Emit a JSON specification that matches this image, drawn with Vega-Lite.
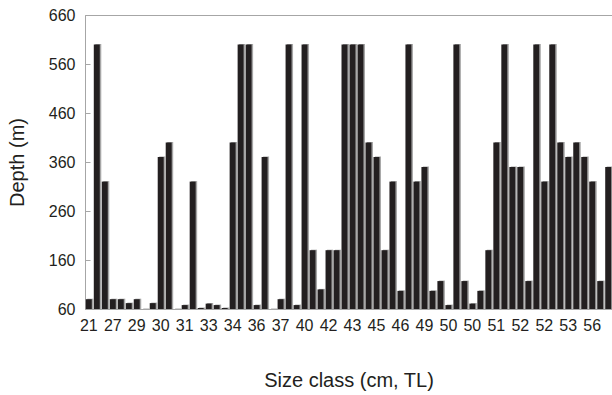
{
  "$schema": "https://vega.github.io/schema/vega-lite/v6.json",
  "autosize": {"type": "none"},
  "padding": {"left": 85, "top": 15, "right": 0, "bottom": 86},
  "width": 527,
  "height": 294,
  "config": {
    "font": "Liberation Sans",
    "view": {"stroke": "#a6a6a6", "strokeWidth": 1},
    "axis": {"labelFont": "Liberation Sans", "titleFont": "Liberation Sans", "labelColor": "#231f20", "titleColor": "#231f20", "labelFontSize": 16, "titleFontSize": 20, "titleFontWeight": "normal", "grid": false, "domainColor": "#a6a6a6", "tickColor": "#a6a6a6"}
  },
  "data": {"values": [
    {"cat": "21|0", "depth": 80}, {"cat": "|1", "depth": 600}, {"cat": "|2", "depth": 320},
    {"cat": "27|3", "depth": 80}, {"cat": "|4", "depth": 80}, {"cat": "|5", "depth": 72},
    {"cat": "29|6", "depth": 80}, {"cat": "|7", "depth": 60}, {"cat": "|8", "depth": 72},
    {"cat": "30|9", "depth": 370}, {"cat": "|10", "depth": 400}, {"cat": "|11", "depth": 60},
    {"cat": "31|12", "depth": 68}, {"cat": "|13", "depth": 320}, {"cat": "|14", "depth": 62},
    {"cat": "33|15", "depth": 71}, {"cat": "|16", "depth": 68}, {"cat": "|17", "depth": 62},
    {"cat": "34|18", "depth": 400}, {"cat": "|19", "depth": 600}, {"cat": "|20", "depth": 600},
    {"cat": "36|21", "depth": 68}, {"cat": "|22", "depth": 370}, {"cat": "|23", "depth": 60},
    {"cat": "37|24", "depth": 80}, {"cat": "|25", "depth": 600}, {"cat": "|26", "depth": 68},
    {"cat": "40|27", "depth": 600}, {"cat": "|28", "depth": 180}, {"cat": "|29", "depth": 100},
    {"cat": "42|30", "depth": 180}, {"cat": "|31", "depth": 180}, {"cat": "|32", "depth": 600},
    {"cat": "43|33", "depth": 600}, {"cat": "|34", "depth": 600}, {"cat": "|35", "depth": 400},
    {"cat": "45|36", "depth": 370}, {"cat": "|37", "depth": 180}, {"cat": "|38", "depth": 320},
    {"cat": "46|39", "depth": 97}, {"cat": "|40", "depth": 600}, {"cat": "|41", "depth": 320},
    {"cat": "49|42", "depth": 350}, {"cat": "|43", "depth": 97}, {"cat": "|44", "depth": 117},
    {"cat": "50|45", "depth": 68}, {"cat": "|46", "depth": 600}, {"cat": "|47", "depth": 117},
    {"cat": "50|48", "depth": 71}, {"cat": "|49", "depth": 97}, {"cat": "|50", "depth": 180},
    {"cat": "51|51", "depth": 400}, {"cat": "|52", "depth": 600}, {"cat": "|53", "depth": 350},
    {"cat": "52|54", "depth": 350}, {"cat": "|55", "depth": 117}, {"cat": "|56", "depth": 600},
    {"cat": "52|57", "depth": 320}, {"cat": "|58", "depth": 600}, {"cat": "|59", "depth": 400},
    {"cat": "53|60", "depth": 370}, {"cat": "|61", "depth": 400}, {"cat": "|62", "depth": 370},
    {"cat": "56|63", "depth": 320}, {"cat": "|64", "depth": 117}, {"cat": "|65", "depth": 350}
  ]},
  "encoding": {
    "x": {
      "field": "cat", "type": "nominal", "sort": null,
      "scale": {"paddingInner": 0.25, "paddingOuter": 0.1},
      "axis": {"title": "Size class (cm, TL)", "labelAngle": 0, "ticks": false, "labelPadding": 8, "titlePadding": 37, "labelExpr": "split(datum.value, '|')[0]"}
    },
    "y": {
      "field": "depth", "type": "quantitative",
      "scale": {"domain": [60, 660], "zero": false, "nice": false},
      "axis": {"title": "Depth (m)", "values": [60, 160, 260, 360, 460, 560, 660], "tickSize": -5, "labelPadding": 15, "titlePadding": 21}
    },
    "y2": {"datum": 60}
  },
  "layer": [
    {"mark": {"type": "bar", "color": "#a6a6a6", "xOffset": 1.5, "yOffset": -0.5}},
    {"mark": {"type": "bar", "color": "#231f20"}}
  ]
}
